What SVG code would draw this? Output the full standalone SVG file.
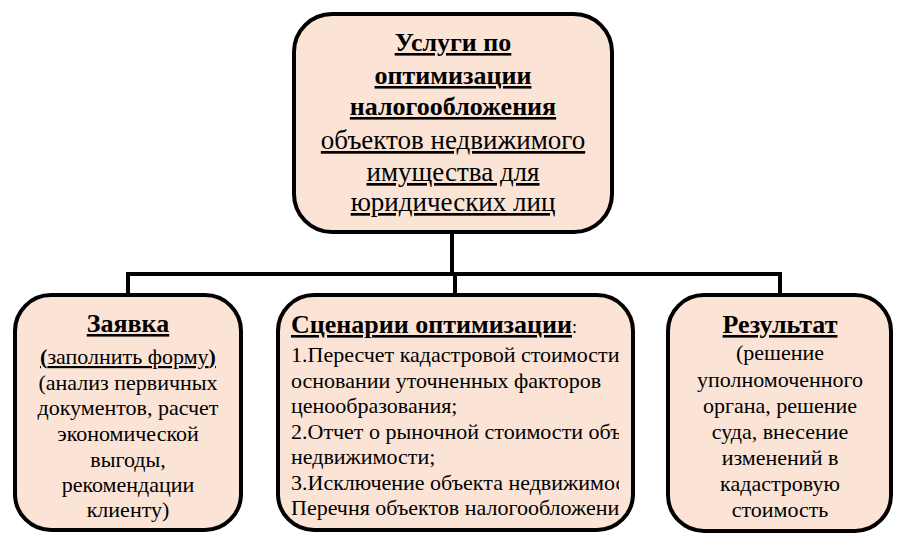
<svg xmlns="http://www.w3.org/2000/svg" width="903" height="543" viewBox="0 0 903 543">
<style>
.box{fill:#fbe4d6;stroke:#000;stroke-width:4}
.conn{stroke:#000;stroke-width:4;fill:none}
text{font-family:"Liberation Serif","Times New Roman",serif;fill:#000}
.c{text-anchor:middle}
.hb{font-weight:bold;font-size:26px;text-decoration:underline}
.tr{font-size:27px;text-decoration:underline}
.u{text-decoration:underline}
.br{font-size:22px}
</style>
<defs>
<clipPath id="midclip"><rect x="280" y="296" width="339" height="232"/></clipPath>
</defs>
<rect width="903" height="543" fill="#fff"/>
<g id="connectors">
<path class="conn" d="M452 233 V274 M126 274 H782 M128 272 V294 M455 272 V294 M780 272 V294"/>
</g>
<g id="top">
<rect class="box" x="294" y="14" width="318" height="218" rx="38"/>
<text class="c hb" font-family="Liberation Serif, serif" x="453" y="51">Услуги по</text>
<text class="c hb" font-family="Liberation Serif, serif" x="453" y="84">оптимизации</text>
<text class="c hb" font-family="Liberation Serif, serif" x="453" y="115">налогообложения</text>
<text class="c tr" font-family="Liberation Serif, serif" x="453" y="149">объектов недвижимого</text>
<text class="c tr" font-family="Liberation Serif, serif" x="453" y="181">имущества для</text>
<text class="c tr" font-family="Liberation Serif, serif" x="453" y="211">юридических лиц</text>
</g>
<g id="zayavka">
<rect class="box" x="15" y="295" width="226" height="235" rx="36"/>
<text class="c hb" font-family="Liberation Serif, serif" x="128" y="332">Заявка</text>
<text class="c br u" font-family="Liberation Serif, serif" x="128" y="364"><tspan font-weight="bold">(</tspan>заполнить форму<tspan font-weight="bold">)</tspan></text>
<text class="c br" font-family="Liberation Serif, serif" x="128" y="390">(анализ первичных</text>
<text class="c br" font-family="Liberation Serif, serif" x="128" y="415">документов, расчет</text>
<text class="c br" font-family="Liberation Serif, serif" x="128" y="441">экономической</text>
<text class="c br" font-family="Liberation Serif, serif" x="128" y="467">выгоды,</text>
<text class="c br" font-family="Liberation Serif, serif" x="128" y="492">рекомендации</text>
<text class="c br" font-family="Liberation Serif, serif" x="128" y="517">клиенту)</text>
</g>
<g id="scenarios">
<rect class="box" x="278" y="295" width="355" height="235" rx="36"/>
<g clip-path="url(#midclip)">
<text class="br" font-family="Liberation Serif, serif" x="291" y="333"><tspan class="hb">Сценарии оптимизации</tspan><tspan font-size="18px">:</tspan></text>
<text class="br" font-family="Liberation Serif, serif" x="291" y="362">1.Пересчет кадастровой стоимости на</text>
<text class="br" font-family="Liberation Serif, serif" x="291" y="388">основании уточненных факторов</text>
<text class="br" font-family="Liberation Serif, serif" x="291" y="413">ценообразования;</text>
<text class="br" font-family="Liberation Serif, serif" x="291" y="439">2.Отчет о рыночной стоимости объекта</text>
<text class="br" font-family="Liberation Serif, serif" x="291" y="464">недвижимости;</text>
<text class="br" font-family="Liberation Serif, serif" x="291" y="490">3.Исключение объекта недвижимости из</text>
<text class="br" font-family="Liberation Serif, serif" x="291" y="515">Перечня объектов налогообложения</text>
</g>
</g>
<g id="result">
<rect class="box" x="668" y="295" width="223" height="236" rx="36"/>
<text class="c hb" font-family="Liberation Serif, serif" x="780" y="333">Результат</text>
<text class="c br" font-family="Liberation Serif, serif" x="780" y="360">(решение</text>
<text class="c br" font-family="Liberation Serif, serif" x="780" y="387">уполномоченного</text>
<text class="c br" font-family="Liberation Serif, serif" x="780" y="413">органа, решение</text>
<text class="c br" font-family="Liberation Serif, serif" x="780" y="439">суда, внесение</text>
<text class="c br" font-family="Liberation Serif, serif" x="780" y="465">изменений в</text>
<text class="c br" font-family="Liberation Serif, serif" x="780" y="491">кадастровую</text>
<text class="c br" font-family="Liberation Serif, serif" x="780" y="517">стоимость</text>
</g>
</svg>
